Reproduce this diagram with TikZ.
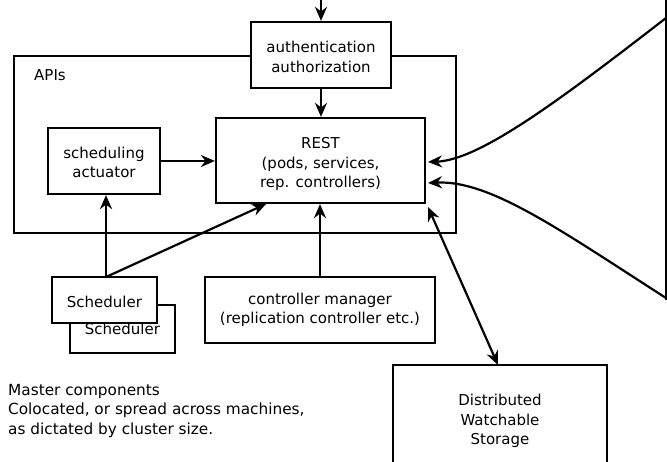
\documentclass[tikz,border=0pt]{standalone}
\usepackage{fontspec}
\setmainfont{DejaVu Sans}
\usetikzlibrary{arrows.meta}
\begin{document}
\begin{tikzpicture}[x=1pt,y=-1pt,
  box/.style={draw,line width=2.2pt,fill=white,inner sep=0pt,align=center,font=\fontsize{15}{19.5}\selectfont},
  txt/.style={inner sep=0pt,align=center,font=\fontsize{15}{19.5}\selectfont},
  arr/.style={line width=2.2pt,-{Stealth[length=14pt,width=12pt]}},
  darr/.style={line width=2.2pt,{Stealth[length=14pt,width=12pt]}-{Stealth[length=14pt,width=12pt]}},
  lbl/.style={font=\fontsize{15}{19.5}\selectfont,inner sep=0pt}]
\useasboundingbox[fill=white] (0,0) rectangle (667,462);
% outer API box
\draw[line width=2.2pt] (14,56) rectangle (456,233);
\node[lbl,anchor=base west] (apis) at (34,81) {APIs};
% boxes
\node[box,minimum width=140pt,minimum height=66pt] (auth) at (321,55) {};
\node[txt] (authtxt) at (321,57) {authentication\\authorization};
\node[box,minimum width=209pt,minimum height=85pt] (rest) at (320.5,160.5) {};
\node[txt] (resttxt) at (320.5,164) {REST\\(pods, services,\\rep. controllers)};
\node[box,minimum width=112pt,minimum height=66pt] (act) at (104,161) {};
\node[txt] (acttxt) at (104,162.5) {scheduling\\actuator};
\node[box,minimum width=105pt,minimum height=48pt] (sched2) at (122.5,329) {Scheduler};
\node[box,minimum width=105pt,minimum height=46pt] (sched) at (104.5,300) {};
\node[txt] (schedtxt) at (104.5,302) {Scheduler};
\node[box,minimum width=230pt,minimum height=66pt] (cm) at (320,310) {controller manager\\(replication controller etc.)};
\draw[line width=2.2pt,fill=white] (393,365) -- (393,470) -- (607,470) -- (607,365) -- cycle;
\node[txt] (store) at (500,421) {Distributed\\Watchable\\Storage};
\coordinate (storetop) at (498,365);
% right edge box
\coordinate (rtop) at (666,18);
\coordinate (rbot) at (666,298);
\draw[line width=2.2pt] (666,0) -- (666,300);
% connectors
\coordinate (topin) at (321,0);
\draw[arr] (topin) -- (auth.north);
\draw[arr] (auth.south) -- (rest.north -| auth.south);
\draw[arr] (act.east) -- (act.east -| rest.west);
\coordinate (sj) at (106,277);
\draw[arr] (sj) -- (act.south -| sj);
\draw[arr] (sj) -- (266,204);
\draw[arr] (cm.north) -- (rest.south -| cm.north);
\draw[darr] (428,207) -- (storetop);
\draw[arr] (rtop) .. controls (560,100) and (480,160) .. (428,162);
\draw[arr] (rbot) .. controls (560,230) and (490,180) .. (428,183);
% text
\node[lbl,anchor=base west,align=left,font=\fontsize{15.3}{19.5}\selectfont] (note) at (8,434) {Master components\\Colocated, or spread across machines,\\as dictated by cluster size.};
\end{tikzpicture}
\end{document}
